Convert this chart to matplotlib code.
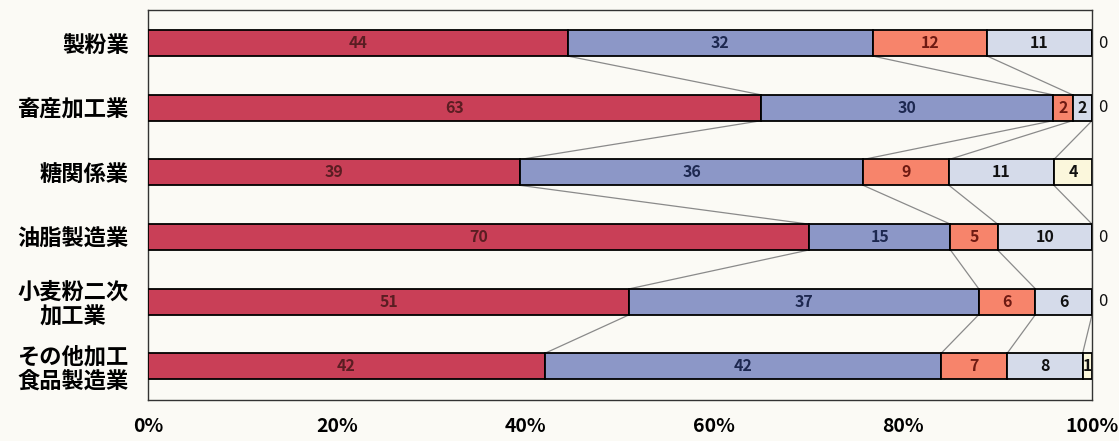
import matplotlib.pyplot as plt
import numpy as np

plt.rcParams['font.family'] = ['Noto Sans CJK JP', 'DejaVu Sans']

# Data
categories = ['製粉業', '畜産加工業', '糖関係業', '油脂製造業', '小麦粉二次\n加工業', 'その他加工\n食品製造業']
seg1 = [44, 63, 39, 70, 51, 42]
seg2 = [32, 30, 36, 15, 37, 42]
seg3 = [12, 2, 9, 5, 6, 7]
seg4 = [11, 2, 11, 10, 6, 8]
seg5 = [0, 0, 4, 0, 0, 1]
x_ticks = [0, 20, 40, 60, 80, 100]
x_ticklabels = ['0%', '20%', '40%', '60%', '80%', '100%']

colors = ['#c93f57', '#8c97c7', '#f7846b', '#d5dbea', '#fbf7dc']
text_colors = ['#5a1d22', '#1d2850', '#6e1a12', '#111111', '#111111']

vals = np.array([seg1, seg2, seg3, seg4, seg5], dtype=float)
pct = vals / vals.sum(axis=0) * 100
cum = np.cumsum(pct, axis=0)

fig = plt.figure(figsize=(11.19, 4.41), dpi=100)
fig.patch.set_facecolor('#fbfaf5')
ax = fig.add_axes([0.1323, 0.093, 0.8436, 0.884])
ax.set_facecolor('#fbfaf5')

y = np.arange(len(categories))
h = 0.40

# Stacked bars
left = np.zeros(len(categories))
for s in range(5):
    ax.barh(y, pct[s], left=left, height=h, color=colors[s],
            edgecolor='black', linewidth=1.3, zorder=3)
    for i in range(len(categories)):
        v = int(vals[s, i])
        if v > 0:
            ax.text(left[i] + pct[s, i] / 2, y[i], str(v), ha='center', va='center',
                    fontsize=11.5, fontweight='bold', color=text_colors[s], zorder=4)
    left = left + pct[s]

# Zero labels on the right
for i in range(len(categories)):
    if vals[4, i] == 0:
        ax.text(100.6, y[i], '0', ha='left', va='center', fontsize=12,
                color='#111111', clip_on=False)

# Connector lines between bars
for i in range(len(categories) - 1):
    for b in range(4):
        ax.plot([cum[b, i], cum[b, i + 1]], [y[i] + h / 2, y[i + 1] - h / 2],
                color='#8a8a8a', linewidth=0.9, zorder=2)

ax.set_xlim(0, 100)
ax.set_ylim(5.52, -0.51)
ax.set_yticks(y)
ax.set_yticklabels(categories, fontsize=16, fontweight='bold', multialignment='center',
                   linespacing=1.1)
ax.set_xticks(x_ticks)
ax.set_xticklabels(x_ticklabels, fontsize=14, fontweight='bold')
ax.tick_params(axis='both', length=0)
ax.tick_params(axis='x', pad=12)
ax.tick_params(axis='y', pad=14)

for sp in ax.spines.values():
    sp.set_color('#333333')
    sp.set_linewidth(1.0)

plt.savefig('out.png', dpi=100, facecolor=fig.get_facecolor())
